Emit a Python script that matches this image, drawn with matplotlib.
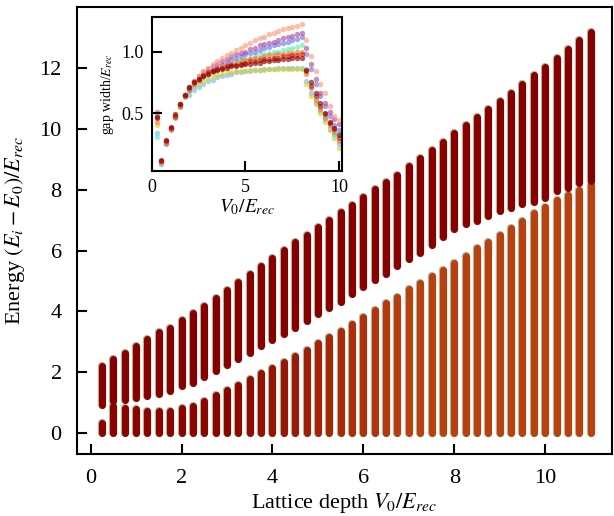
import numpy as np
import matplotlib
matplotlib.use("Agg")
import matplotlib.pyplot as plt
from matplotlib.colors import to_rgb

plt.rcParams["font.family"] = "serif"
plt.rcParams["font.serif"] = ["Liberation Serif", "DejaVu Serif"]
plt.rcParams["mathtext.fontset"] = "stix"

# main panel: energy spectrum, one column per lattice depth
lattice_depth = [0.25, 0.5, 0.75, 1.0, 1.25, 1.5, 1.75, 2.0, 2.25, 2.5, 2.75,
                 3.0, 3.25, 3.5, 3.75, 4.0, 4.25, 4.5, 4.75, 5.0, 5.25, 5.5,
                 5.75, 6.0, 6.25, 6.5, 6.75, 7.0, 7.25, 7.5, 7.75, 8.0, 8.25,
                 8.5, 8.75, 9.0, 9.25, 9.5, 9.75, 10.0, 10.25, 10.5, 10.75, 11.0]
# lowest group always starts at the ground state (0)
lower_top = [0.34, 0.88, 0.81, 0.78, 0.74, 0.72, 0.74, 0.81, 0.88, 1.05, 1.24,
             1.42, 1.59, 1.78, 1.98, 2.14, 2.34, 2.55, 2.74, 2.96, 3.15, 3.34,
             3.58, 3.83, 4.05, 4.27, 4.49, 4.74, 4.93, 5.15, 5.37, 5.58, 5.83,
             6.08, 6.29, 6.51, 6.73, 6.97, 7.22, 7.44, 7.66, 7.83, 7.99, 8.15]
upper_bottom = [0.91, 1.05, 1.10, 1.17, 1.22, 1.30, 1.40, 1.56, 1.66, 1.83, 2.04,
                2.25, 2.44, 2.64, 2.86, 3.06, 3.26, 3.47, 3.68, 3.90, 4.10, 4.32,
                4.57, 4.81, 5.03, 5.22, 5.50, 5.71, 5.93, 6.19, 6.45, 6.70, 6.88,
                6.97, 7.14, 7.30, 7.41, 7.52, 7.60, 7.74, 7.96, 8.06, 8.23, 8.30]
upper_top = [2.19, 2.45, 2.63, 2.85, 3.10, 3.32, 3.47, 3.73, 3.96, 4.19, 4.44,
             4.71, 4.98, 5.23, 5.50, 5.75, 6.02, 6.27, 6.51, 6.76, 7.00, 7.26,
             7.50, 7.77, 8.02, 8.26, 8.50, 8.78, 9.05, 9.30, 9.57, 9.85, 10.12,
             10.39, 10.64, 10.91, 11.19, 11.49, 11.76, 12.03, 12.33, 12.63, 12.91, 13.18]

# inset: gap width for several runs
gap_v0 = [0.25, 0.5, 0.75, 1.0, 1.25, 1.5, 1.75, 2.0, 2.25, 2.5, 2.75, 3.0, 3.25,
          3.5, 3.75, 4.0, 4.25, 4.5, 4.75, 5.0, 5.25, 5.5, 5.75, 6.0, 6.25, 6.5,
          6.75, 7.0, 7.25, 7.5, 7.75, 8.0, 8.25, 8.5, 8.75, 9.0, 9.25, 9.5, 9.75, 10.0]
gap_salmon = [0.50, 0.10, 0.27, 0.38, 0.48, 0.57, 0.65, 0.71, 0.76, 0.80, 0.84, 0.87, 0.90,
              0.92, 0.95, 0.97, 0.99, 1.01, 1.03, 1.05, 1.07, 1.09, 1.11, 1.12, 1.14, 1.15,
              1.17, 1.18, 1.19, 1.20, 1.21, 1.22, 1.09, 0.96, 0.84, 0.74, 0.66, 0.56, 0.48, 0.44]
gap_purple = [0.51, 0.11, 0.27, 0.38, 0.48, 0.57, 0.65, 0.71, 0.76, 0.80, 0.83, 0.86, 0.88,
              0.90, 0.92, 0.94, 0.96, 0.98, 0.99, 1.00, 1.02, 1.03, 1.05, 1.06, 1.07, 1.08,
              1.09, 1.11, 1.12, 1.13, 1.14, 1.15, 1.03, 0.90, 0.78, 0.66, 0.58, 0.51, 0.45, 0.41]
gap_blue = [0.48, 0.10, 0.26, 0.37, 0.47, 0.56, 0.64, 0.69, 0.74, 0.77, 0.80, 0.83, 0.85,
            0.87, 0.89, 0.91, 0.93, 0.95, 0.96, 0.98, 0.99, 1.00, 1.01, 1.03, 1.04, 1.05,
            1.06, 1.07, 1.08, 1.09, 1.10, 1.12, 0.98, 0.86, 0.74, 0.64, 0.56, 0.48, 0.40, 0.36]
gap_aqua = [0.31, 0.09, 0.25, 0.37, 0.47, 0.56, 0.64, 0.69, 0.73, 0.76, 0.79, 0.81, 0.83,
            0.85, 0.87, 0.89, 0.90, 0.92, 0.93, 0.94, 0.95, 0.96, 0.97, 0.98, 0.99, 1.00,
            1.00, 1.01, 1.02, 1.03, 1.04, 1.05, 0.86, 0.73, 0.63, 0.55, 0.47, 0.40, 0.32, 0.33]
gap_orange = [0.43, 0.10, 0.26, 0.37, 0.47, 0.56, 0.64, 0.70, 0.74, 0.77, 0.80, 0.82, 0.84,
              0.86, 0.88, 0.89, 0.90, 0.91, 0.92, 0.93, 0.94, 0.95, 0.95, 0.96, 0.97, 0.97,
              0.98, 0.98, 0.99, 0.99, 1.00, 1.00, 0.82, 0.70, 0.61, 0.53, 0.46, 0.40, 0.35, 0.27]
gap_red = [0.46, 0.11, 0.27, 0.38, 0.48, 0.57, 0.645, 0.705, 0.75, 0.78, 0.81, 0.83, 0.84,
           0.86, 0.87, 0.88, 0.89, 0.89, 0.90, 0.91, 0.92, 0.92, 0.93, 0.94, 0.94, 0.95,
           0.95, 0.96, 0.96, 0.97, 0.97, 0.98, 0.84, 0.72, 0.64, 0.56, 0.49, 0.42, 0.37, 0.30]
gap_yellow = [0.40, 0.10, 0.26, 0.37, 0.47, 0.55, 0.63, 0.67, 0.71, 0.74, 0.76, 0.78, 0.80,
              0.81, 0.82, 0.83, 0.83, 0.84, 0.84, 0.84, 0.85, 0.85, 0.85, 0.85, 0.86, 0.86,
              0.86, 0.86, 0.86, 0.86, 0.86, 0.86, 0.74, 0.64, 0.57, 0.50, 0.43, 0.36, 0.30, 0.22]
gap_lightblue = [0.34, 0.09, 0.25, 0.36, 0.46, 0.55, 0.63, 0.65, 0.69, 0.71, 0.74, 0.76, 0.77,
                 0.79, 0.80, 0.81, 0.82, 0.83, 0.83, 0.84, 0.84, 0.85, 0.85, 0.86, 0.86, 0.86,
                 0.87, 0.87, 0.87, 0.87, 0.87, 0.87, 0.76, 0.66, 0.58, 0.52, 0.45, 0.37, 0.33, 0.25]
gap_darkred = [0.47, 0.12, 0.28, 0.39, 0.49, 0.57, 0.65, 0.71, 0.755, 0.78, 0.80, 0.82, 0.84,
               0.85, 0.86, 0.87, 0.88, 0.88, 0.89, 0.90, 0.90, 0.91, 0.91, 0.92, 0.92, 0.93,
               0.93, 0.94, 0.94, 0.95, 0.95, 0.95, 0.85, 0.75, 0.66, 0.58, 0.50, 0.43, 0.38, 0.32]

fig = plt.figure(figsize=(6.14, 5.16), dpi=100)
ax = fig.add_axes([0.1254, 0.120, 0.8713, 0.866])

v0 = np.array(lattice_depth)
zeros = np.zeros_like(v0)

# lower group shifts from dark red to a red-orange as the lattice gets deeper
dark = np.array(to_rgb("#8a0400"))
orange = np.array(to_rgb("#b8420f"))
w = np.clip((v0 - 3.0) / 4.0, 0, 1)[:, None]
lower_cols = dark * (1 - w) + orange * w

halo = "#a3a98a"
ax.vlines(v0, zeros, lower_top, colors=halo, linewidth=6.0, alpha=0.8, capstyle="round")
ax.vlines(v0, upper_bottom, upper_top, colors=halo, linewidth=6.0, alpha=0.8, capstyle="round")
ax.vlines(v0, zeros, lower_top, colors=lower_cols, linewidth=5.1, capstyle="round")
ax.vlines(v0, upper_bottom, upper_top, colors="#870000", linewidth=5.1, capstyle="round")

ax.set_xlim(-0.3, 11.47)
ax.set_ylim(-0.69, 14.0)
ax.set_xticks([0, 2, 4, 6, 8, 10])
ax.set_yticks([0, 2, 4, 6, 8, 10, 12])
ax.tick_params(direction="in", length=7.5, width=1.5, labelsize=16, pad=11,
               top=False, right=False)
for s in ax.spines.values():
    s.set_linewidth(1.5)
ax.set_xlabel("Lattice depth $V_0/E_{rec}$", fontsize=16, labelpad=2)
ax.set_ylabel("Energy $(E_i - E_0)/E_{rec}$", fontsize=16, labelpad=9)

# inset
axins = fig.add_axes([0.2476, 0.6686, 0.3090, 0.2984])
series = [
    (gap_lightblue, "#78b8ff"),
    (gap_yellow, "#d4d030"),
    (gap_aqua, "#5cf0b8"),
    (gap_blue, "#6f78ee"),
    (gap_purple, "#a8509c"),
    (gap_salmon, "#ff9a78"),
    (gap_orange, "#f57a30"),
    (gap_red, "#d8200c"),
    (gap_darkred, "#8b0000"),
]
for vals, c in series:
    axins.scatter(gap_v0, vals, s=15, color=c, alpha=0.65, linewidths=0)
axins.set_xlim(0, 10.15)
axins.set_ylim(0.03, 1.28)
axins.set_xticks([0, 5, 10])
axins.set_yticks([0.5, 1.0])
axins.tick_params(direction="in", length=7, width=1.5, labelsize=13, pad=6,
                  top=False, right=False)
for s in axins.spines.values():
    s.set_linewidth(1.5)
axins.set_xlabel("$V_0/E_{rec}$", fontsize=14, labelpad=1)
axins.set_ylabel("gap width/$E_{rec}$", fontsize=10, labelpad=4)

fig.savefig("out.png", dpi=100)
